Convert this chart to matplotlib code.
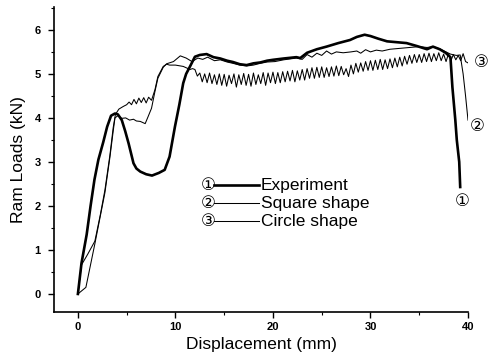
import numpy as np
import matplotlib
matplotlib.use("Agg")
import matplotlib.pyplot as plt
from matplotlib.ticker import MultipleLocator

plt.rcParams['font.family'] = ['Liberation Sans', 'DejaVu Sans', 'Noto Sans CJK SC']

# ---- data ----
exp_x = [0, 0.37, 0.9, 1.3, 1.7, 2.1, 2.6, 3.0, 3.4, 3.8, 4.1, 4.5, 4.85, 5.2, 5.7, 6.0, 6.4,
         7.0, 7.6, 8.3, 8.9, 9.4, 9.95, 10.4, 10.8, 11.1, 11.5, 12.0, 12.5, 13.2, 13.9,
         14.6, 15.3, 15.9, 16.6, 17.3, 18.0, 18.7, 19.4, 20.0, 21.1, 22.4, 22.8, 23.5,
         24.5, 25.5, 26.7, 27.9, 28.6, 29.4, 30.0, 30.8, 31.7, 32.7, 33.7, 34.8, 35.8,
         36.4, 37.1, 37.7, 38.2, 38.4, 38.7, 38.85, 39.1, 39.2]
exp_y = [0, 0.7, 1.35, 2.0, 2.6, 3.05, 3.45, 3.8, 4.05, 4.1, 4.08, 3.95, 3.7, 3.42, 2.97, 2.85, 2.78,
         2.72, 2.69, 2.75, 2.82, 3.12, 3.8, 4.3, 4.79, 5.0, 5.17, 5.39, 5.43, 5.45, 5.38,
         5.35, 5.3, 5.27, 5.22, 5.2, 5.24, 5.26, 5.3, 5.32, 5.35, 5.38, 5.36, 5.48,
         5.56, 5.62, 5.7, 5.77, 5.84, 5.89, 5.86, 5.8, 5.74, 5.72, 5.7, 5.63, 5.56,
         5.62, 5.56, 5.48, 5.38, 4.7, 3.95, 3.5, 3.0, 2.43]

sq_x = [0, 0.82, 1.74, 2.77, 3.28, 3.62, 3.8, 4.1, 4.5, 4.9, 5.3, 5.7, 6.0, 6.4, 6.9, 7.2,
        7.55, 7.9, 8.2, 8.75, 9.1, 9.8, 10.5, 11.1, 11.7, 12.3, 12.8, 13.3, 14.0, 14.6,
        15.3, 15.9, 16.6, 17.3, 18.0, 18.7, 19.4, 20.2, 21.1, 22.4, 23.0, 23.5, 24.0,
        24.5, 25.0, 25.5, 26.0, 26.5, 27.2, 28.0, 28.6, 29.0, 29.5, 30.0, 30.6, 31.2,
        32.0, 33.0, 34.0, 35.0, 35.8, 36.4, 37.1, 38.2, 38.8, 39.2, 39.5, 39.75, 40.0]
sq_y = [0, 0.15, 1.14, 2.3, 3.1, 3.7, 4.0, 4.05, 3.99, 4.0, 3.95, 3.97, 3.93, 3.92, 3.87, 4.03,
        4.22, 4.6, 4.9, 5.15, 5.23, 5.28, 5.41, 5.36, 5.28, 5.36, 5.33, 5.38, 5.3, 5.32,
        5.27, 5.24, 5.2, 5.18, 5.2, 5.24, 5.27, 5.28, 5.32, 5.36, 5.33, 5.44, 5.38,
        5.47, 5.42, 5.52, 5.45, 5.5, 5.48, 5.5, 5.52, 5.47, 5.55, 5.5, 5.54, 5.52,
        5.56, 5.58, 5.6, 5.62, 5.6, 5.62, 5.57, 5.45, 5.42, 5.43, 5.0, 4.5, 3.95]

# circle shape: rise and plateau part
cir_x0 = [0, 0.37, 1.0, 1.74, 2.3, 2.77, 3.28, 3.62, 3.85, 4.2, 4.65, 5.0, 5.25, 5.5,
          5.75, 6.0, 6.25, 6.5, 6.75, 7.0, 7.25, 7.55, 7.9, 8.2, 8.75, 9.1, 9.4, 10.0,
          10.8, 11.5, 11.75]
cir_y0 = [0, 0.66, 0.9, 1.2, 1.8, 2.36, 3.15, 3.78, 4.08, 4.2, 4.26, 4.3, 4.36, 4.3,
          4.42, 4.32, 4.45, 4.35, 4.46, 4.34, 4.47, 4.4, 4.64, 4.94, 5.17, 5.22, 5.2, 5.2,
          5.17, 5.1, 5.12]
# circle shape: oscillating part, one value every 0.25 mm from 12 to 40 mm
cir_osc = [5.10, 4.95, 5.02, 4.82, 5.00, 4.80, 5.02, 4.78,
           4.98, 4.76, 5.00, 4.74, 4.99, 4.72, 4.97, 4.78,
           5.00, 4.70, 4.98, 4.76, 5.01, 4.74, 4.99, 4.72,
           5.02, 4.76, 4.98, 4.78, 5.03, 4.74, 5.02, 4.80,
           5.04, 4.78, 5.03, 4.80, 5.05, 4.82, 5.06, 4.84,
           5.08, 4.82, 5.07, 4.86, 5.10, 4.86, 5.12, 4.90,
           5.14, 4.90, 5.15, 4.92, 5.16, 4.92, 5.14, 4.94,
           5.16, 4.95, 5.18, 4.96, 5.17, 4.98, 5.12, 4.94,
           5.20, 5.00, 5.24, 5.04, 5.25, 5.06, 5.28, 5.08,
           5.30, 5.08, 5.31, 5.10, 5.33, 5.10, 5.32, 5.12,
           5.34, 5.14, 5.36, 5.16, 5.38, 5.18, 5.40, 5.22,
           5.42, 5.24, 5.44, 5.26, 5.44, 5.26, 5.46, 5.28,
           5.47, 5.28, 5.46, 5.30, 5.48, 5.30, 5.45, 5.28,
           5.46, 5.30, 5.44, 5.32, 5.42, 5.30, 5.46, 5.28,
           5.25]
cir_x = cir_x0 + list(np.linspace(12, 40, len(cir_osc)))
cir_y = cir_y0 + cir_osc

labels = ['Experiment', 'Square shape', 'Circle shape']
marks = ['\u2460', '\u2461', '\u2462']
# where the circled numbers sit next to the curve ends
mark_x = [39.4, 40.9, 41.4]
mark_y = [2.1, 3.8, 5.25]

fig = plt.figure(figsize=(4.89, 3.58), dpi=100)
ax = fig.add_axes([54/489, 1 - 312/358, 414/489, 305/358])

widths = [1.9, 0.75, 0.75]
series = [(exp_x, exp_y), (sq_x, sq_y), (cir_x, cir_y)]
for (xs, ys), lw in zip(series, widths):
    ax.plot(xs, ys, color='black', lw=lw)

for m, mx, my in zip(marks, mark_x, mark_y):
    ax.text(mx, my, m, fontsize=12, ha='center', va='center', clip_on=False)

# hand-made legend: circled number, line, label
rows = [0.416, 0.357, 0.298]
for m, lab, lw, ry in zip(marks, labels, widths, rows):
    ax.text(0.372, ry, m, transform=ax.transAxes, fontsize=12, ha='center', va='center')
    ax.plot([0.386, 0.496], [ry, ry], transform=ax.transAxes, color='black', lw=lw)
    ax.text(0.500, ry, lab, transform=ax.transAxes, fontsize=12.5, ha='left', va='center')

ax.set_xlim(-2.45, 40)
ax.set_ylim(-0.41, 6.52)
ax.xaxis.set_major_locator(MultipleLocator(10))
ax.xaxis.set_minor_locator(MultipleLocator(5))
ax.yaxis.set_major_locator(MultipleLocator(1))
ax.yaxis.set_minor_locator(MultipleLocator(0.5))
ax.spines['top'].set_visible(False)
ax.spines['right'].set_visible(False)
for s in ['left', 'bottom']:
    ax.spines[s].set_linewidth(1.2)
ax.tick_params(which='major', direction='out', length=4.5, width=1.0, labelsize=8)
ax.tick_params(axis='x', which='major', pad=3)
ax.tick_params(axis='y', which='major', pad=5)
ax.tick_params(which='minor', direction='out', length=2.5, width=0.8)
for t in ax.get_xticklabels() + ax.get_yticklabels():
    t.set_fontweight('bold')

ax.set_xlabel('Displacement (mm)', fontsize=12.5, labelpad=3)
ax.set_ylabel('Ram Loads (kN)', fontsize=12.5, labelpad=6)

fig.savefig('out.png', dpi=100)
